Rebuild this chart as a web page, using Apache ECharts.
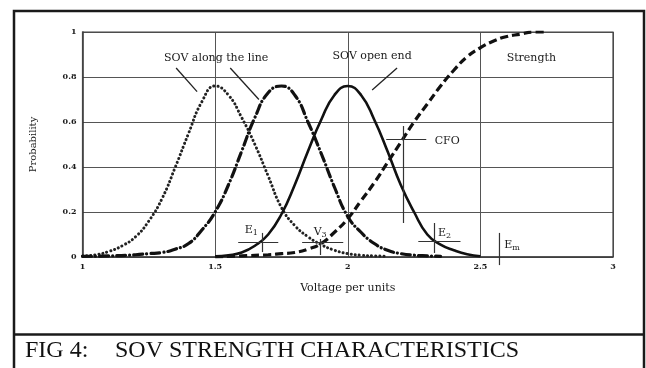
<!DOCTYPE html>
<html>
<head>
<meta charset="utf-8">
<script src="https://cdn.jsdelivr.net/npm/echarts@6/dist/echarts.min.js"></script>
<style>
html,body{margin:0;padding:0;background:#fff;}
#c{width:646px;height:368px;}
</style>
</head>
<body>
<div id="c"></div>
<script>
// ---- data ----
const xTicks = [1, 1.5, 2, 2.5, 3];
const yTicks = [0, 0.2, 0.4, 0.6, 0.8, 1];

const dottedX = [1.00,1.05,1.10,1.15,1.20,1.25,1.30,1.35,1.40,1.45,1.50,1.55,1.60,1.65,1.70,1.75,1.80,1.85,1.90,1.95,2.00,2.05,2.10,2.15];
const dottedY = [0.005,0.01,0.025,0.05,0.09,0.16,0.26,0.40,0.55,0.69,0.76,0.72,0.62,0.50,0.36,0.22,0.14,0.09,0.055,0.03,0.015,0.008,0.005,0.003];

const dashDotX = [1.00,1.10,1.20,1.25,1.30,1.35,1.40,1.45,1.50,1.55,1.60,1.65,1.70,1.75,1.80,1.85,1.90,1.95,2.00,2.05,2.10,2.15,2.20,2.25,2.30,2.35];
const dashDotY = [0.003,0.005,0.01,0.015,0.02,0.035,0.06,0.12,0.20,0.32,0.47,0.62,0.73,0.76,0.72,0.60,0.46,0.31,0.18,0.11,0.06,0.03,0.015,0.008,0.005,0.003];

const solidX = [1.50,1.55,1.60,1.65,1.70,1.75,1.80,1.85,1.90,1.95,2.00,2.05,2.10,2.15,2.20,2.25,2.30,2.35,2.40,2.45,2.50];
const solidY = [0.003,0.008,0.02,0.05,0.10,0.19,0.32,0.47,0.61,0.72,0.76,0.72,0.61,0.47,0.32,0.20,0.10,0.055,0.03,0.012,0.003];

const strengthX = [1.50,1.60,1.70,1.75,1.80,1.85,1.90,1.95,2.00,2.05,2.10,2.15,2.20,2.25,2.30,2.35,2.40,2.45,2.50,2.55,2.60,2.65,2.70,2.75];
const strengthY = [0.0,0.005,0.01,0.015,0.02,0.035,0.06,0.11,0.17,0.25,0.33,0.42,0.51,0.60,0.68,0.76,0.83,0.89,0.93,0.96,0.98,0.99,1.0,1.0];

// annotation anchors (data coordinates)
const crossH = [[1.587,1.738,0.067],[1.828,1.983,0.067],[2.145,2.296,0.524],[2.266,2.425,0.071]];
const crossV = [[1.677,0.022,0.107],[1.896,0.009,0.080],[2.209,0.151,0.582],[2.326,0.018,0.151]];
const emLine = [2.572,-0.036,0.107];
const arrows = [[1.353,0.84,1.432,0.735],[1.557,0.84,1.665,0.70],[2.186,0.84,2.092,0.742]];
const labelText = ['SOV along the line','SOV open end','Strength','CFO','E{s|1}','V{s|3}','E{s|2}','E{s|m}'];
const labelPos = [[1.504,0.884],[2.092,0.893],[2.692,0.884],[2.375,0.516],[1.636,0.12],[1.896,0.111],[2.34,0.107],[2.59,0.053]];
const labelAlign = ['center','center','center','center','center','center','left','left'];

const zip = (xs, ys) => xs.map((x, i) => [x, ys[i]]);

const serif = 'DejaVu Serif';
const ink = '#1a1a1a';

const markLines = [];
crossH.forEach(h => markLines.push([{coord:[h[0],h[2]]},{coord:[h[1],h[2]]}]));
crossV.forEach(v => markLines.push([{coord:[v[0],v[1]]},{coord:[v[0],v[2]]}]));

const arrowLines = arrows.map(a => [{coord:[a[0],a[1]]},{coord:[a[2],a[3]]}]);

const textPoints = labelPos.map((p, i) => ({
  coord: p,
  label: {formatter: labelText[i], align: labelAlign[i]}
}));

const chart = echarts.init(document.getElementById('c'), null, {renderer:'canvas'});
const baseGraphic = [
  {type:'rect', shape:{x:82.5, y:32, width:530.5, height:225}, style:{fill:null, stroke:'#444', lineWidth:1.2}, z:1},
  {type:'rect', shape:{x:14, y:11, width:630, height:370}, style:{fill:null, stroke:'#1a1a1a', lineWidth:2.5}, z:1},
  {type:'line', shape:{x1:14, y1:334.5, x2:644, y2:334.5}, style:{stroke:'#1a1a1a', lineWidth:2.5}, z:1},
  {type:'text', left:25, top:339, style:{text:'FIG 4:', font:'24px "Liberation Serif"', fill:'#111'}},
  {type:'text', left:115, top:339, style:{text:'SOV STRENGTH CHARACTERISTICS', font:'24px "Liberation Serif"', fill:'#111'}}
];
chart.setOption({
  animation: false,
  backgroundColor: '#fff',
  grid: {left: 82.5, top: 32, width: 530.5, height: 225, show: false},
  xAxis: {
    type: 'value', min: 1, max: 3, interval: 0.5,
    name: 'Voltage per units', nameLocation: 'middle', nameGap: 26,
    nameTextStyle: {fontFamily: serif, fontSize: 11, color: ink},
    axisLine: {show: true, lineStyle: {color: '#333', width: 1.5}},
    axisTick: {show: false},
    axisLabel: {fontFamily: serif, fontSize: 8, fontWeight: 'bold', color: ink, margin: 6,
      formatter: v => xTicks.includes(v) ? String(v) : ''},
    splitLine: {show: true, lineStyle: {color: '#555', width: 1}}
  },
  yAxis: {
    type: 'value', min: 0, max: 1, interval: 0.2,
    name: 'Probability', nameLocation: 'middle', nameGap: 44,
    nameTextStyle: {fontFamily: serif, fontSize: 10, color: ink},
    axisLine: {show: true, lineStyle: {color: '#333', width: 1.5}},
    axisTick: {show: false},
    axisLabel: {fontFamily: serif, fontSize: 8, fontWeight: 'bold', color: ink, margin: 6,
      formatter: v => yTicks.includes(+v.toFixed(1)) ? String(+v.toFixed(1)) : ''},
    splitLine: {show: true, lineStyle: {color: '#555', width: 1}}
  },
  graphic: baseGraphic,
  series: [
    {type:'line', data: zip(dottedX, dottedY), showSymbol:false, smooth:true,
     lineStyle:{color:'#222', width:3, type:[0.1,4], cap:'round'}},
    {type:'line', data: zip(dashDotX, dashDotY), showSymbol:false, smooth:true,
     lineStyle:{color:'#111', width:3.2, type:[9,4,0.1,4], cap:'round'}},
    {type:'line', data: zip(solidX, solidY), showSymbol:false, smooth:true,
     lineStyle:{color:'#111', width:2.6}},
    {type:'line', data: zip(strengthX, strengthY), showSymbol:false, smooth:true,
     lineStyle:{color:'#111', width:3.2, type:[8,4]}},
    {type:'line', data: [], silent:true,
     markLine:{silent:true, symbol:['none','none'], animation:false,
       lineStyle:{color:'#333', width:1.2, type:'solid'}, label:{show:false},
       data: markLines}},
    {type:'line', data: [], silent:true,
     markLine:{silent:true, symbol:['none','arrow'], symbolSize:[0,8], animation:false,
       lineStyle:{color:'#222', width:1.3, type:'solid'}, label:{show:false},
       data: arrowLines}},
    {type:'line', data: [], silent:true,
     markPoint:{silent:true, symbol:'circle', symbolSize:0, animation:false,
       label:{show:true, position:'inside', fontFamily:serif, fontSize:11, color:'#1a1a1a',
         rich:{s:{fontFamily:serif, fontSize:8, color:'#1a1a1a', verticalAlign:'bottom', padding:[6,0,0,0]}}},
       data: textPoints}}
  ]
});
// Em marker extends below the axis: place it through the chart's own scales
const p1 = chart.convertToPixel({gridIndex:0}, [emLine[0], emLine[1]]);
const p2 = chart.convertToPixel({gridIndex:0}, [emLine[0], emLine[2]]);
chart.setOption({graphic: baseGraphic.concat([
  {type:'line', shape:{x1:p1[0], y1:p1[1], x2:p2[0], y2:p2[1]}, style:{stroke:'#333', lineWidth:1.2}, z:5}
])});
</script>
</body>
</html>
